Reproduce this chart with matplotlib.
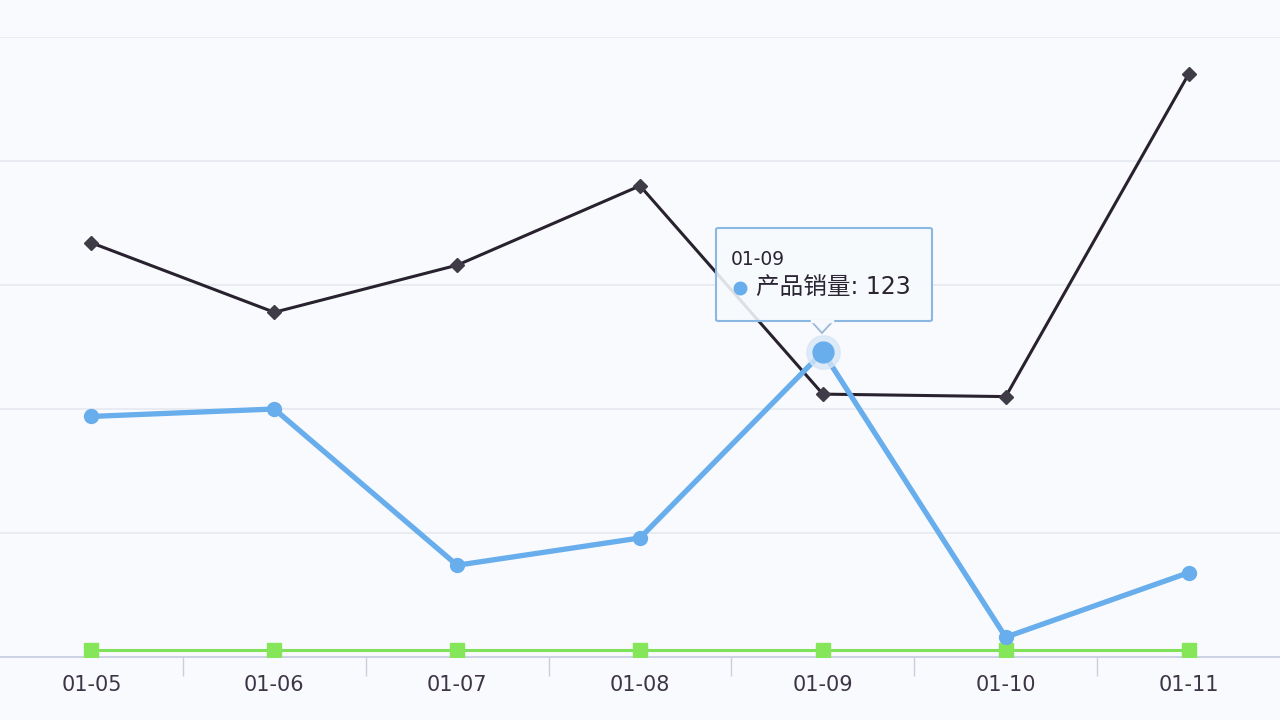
import matplotlib
matplotlib.use("Agg")
import matplotlib.pyplot as plt
from matplotlib.patches import FancyBboxPatch, Polygon

plt.rcParams['font.family'] = ['DejaVu Sans', 'Noto Sans CJK SC']

categories = ["01-05", "01-06", "01-07", "01-08", "01-09", "01-10", "01-11"]
sales = [97, 100, 37, 48, 123, 8, 34]          # 产品销量 (blue)
series_dark = [167, 139, 158, 190, 106, 105, 235]
series_green = [3, 3, 3, 3, 3, 3, 3]
y_ticks = [0, 50, 100, 150, 200, 250]
hover_index = 4
series_name = "产品销量"

bg = "#f9fafd"
fig = plt.figure(figsize=(12.8, 7.2), dpi=100, facecolor=bg)
ax = fig.add_axes([0.0, 1 - 657 / 720, 1.0, (657 - 37) / 720])
ax.set_facecolor(bg)

x = list(range(len(categories)))
ax.set_xlim(-0.5, len(categories) - 0.5)
ax.set_ylim(0, 250)

for v in y_ticks[1:]:
    ax.axhline(v, color="#e3e7ef", lw=1.1, zorder=0)

ax.plot(x, series_green, color="#7fe05a", lw=2.2, marker="s", ms=10,
        mfc="#86e65a", mec="#86e65a", zorder=3)
ax.plot(x, series_dark, color="#28222f", lw=2.2, marker="D", ms=7,
        mfc="#3f3b47", mec="#3f3b47", zorder=4)
ax.plot(x, sales, color="#68adec", lw=3.8, marker="o", ms=10,
        mfc="#68adec", mec="#68adec", zorder=5)
# highlighted point
ax.plot([x[hover_index]], [sales[hover_index]], marker="o", ms=24,
        mfc="#d6e6f6", mec="#d6e6f6", alpha=0.8, zorder=5, ls="none")
ax.plot([x[hover_index]], [sales[hover_index]], marker="o", ms=15,
        mfc="#68adec", mec="#68adec", zorder=6, ls="none")

ax.set_yticks(y_ticks)
ax.tick_params(axis="y", left=False, labelleft=False)
ax.set_xticks(x)
ax.set_xticklabels(categories, fontsize=15, color="#3d3546")
ax.set_xticks([i + 0.5 for i in x[:-1]], minor=True)
ax.tick_params(axis="x", which="major", length=0, pad=13)
ax.tick_params(axis="x", which="minor", length=14, color="#c9cfdb", width=1)
for s in ["top", "right", "left"]:
    ax.spines[s].set_visible(False)
ax.spines["bottom"].set_color("#c5cbe0")
ax.spines["bottom"].set_linewidth(1.2)

# tooltip (figure pixel layout)
W, H = 1280, 720
def fx(px): return px / W
def fy(py): return 1 - py / H

box = FancyBboxPatch((fx(716), fy(321)), fx(932) - fx(716), fy(228) - fy(321),
                     boxstyle="round,pad=0,rounding_size=0.002",
                     transform=fig.transFigure, facecolor=(0.97, 0.98, 0.995, 0.88),
                     edgecolor="#8ab7e3", lw=1.5, zorder=10)
fig.add_artist(box)
tri = Polygon([(fx(811), fy(321)), (fx(833), fy(321)), (fx(822), fy(333))],
              closed=True, transform=fig.transFigure, facecolor="#f5f8fc",
              edgecolor="#9bb8d8", lw=1.3, zorder=10)
fig.add_artist(tri)
fig.add_artist(plt.Line2D([fx(812), fx(832)], [fy(321), fy(321)], color="#f5f8fc",
               lw=2.5, transform=fig.transFigure, zorder=11))
fig.text(fx(731), fy(259), categories[hover_index], fontsize=13.5, color="#2b2533",
         va="center", ha="left", zorder=12)
fig.add_artist(plt.Line2D([fx(740)], [fy(288)], marker="o", ms=9,
               color="#68adec", transform=fig.transFigure, zorder=12))
fig.text(fx(756), fy(288), f"{series_name}: {sales[hover_index]}", fontsize=17,
         color="#2b2533", va="center", ha="left", zorder=12)

fig.savefig("out.png", dpi=100, facecolor=bg)
